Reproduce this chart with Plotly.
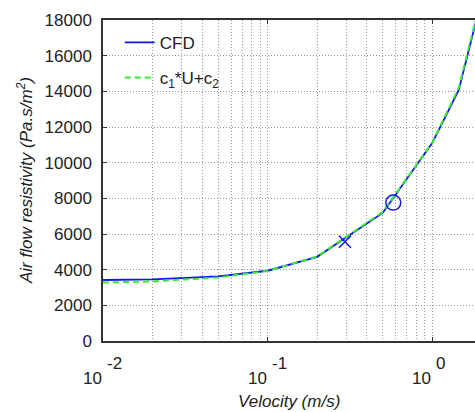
import numpy as np
import plotly.graph_objects as go

# ---- data ----
velocity = [0.01, 0.02, 0.05, 0.1, 0.2, 0.5, 1.0, 1.45, 2.0]
cfd = [3420, 3460, 3620, 3940, 4720, 7180, 11100, 14080, 19200]
fit = [3280, 3340, 3560, 3930, 4740, 7230, 11120, 14200, 19350]

marker_x_v = [0.295]
marker_x_val = [5570]
marker_o_v = [0.58]
marker_o_val = [7760]

y_ticks = [0, 2000, 4000, 6000, 8000, 10000, 12000, 14000, 16000, 18000]
x_major = [0.01, 0.1, 1.0]
x_tick_base = ["10", "10", "10"]
x_tick_exp = ["-2", "-1", "0"]
x_minor = [m * d for d in [0.01, 0.1, 1.0] for m in range(2, 10)]

FONT = "Liberation Sans, Arial, sans-serif"
BLUE = "#1414e6"
GREEN = "#33ee33"
TXT = "#222"

fig = go.Figure()
fig.add_trace(go.Scatter(x=velocity, y=cfd, mode="lines", name="CFD",
                         line=dict(color=BLUE, width=1.8),
                         legendgroup="a"))
fig.add_trace(go.Scatter(x=velocity, y=fit, mode="lines",
                         name="c<sub>1</sub>*U+c<sub>2</sub>",
                         line=dict(color=GREEN, width=2, dash="6px,4px"),
                         legendgroup="b"))
fig.add_trace(go.Scatter(x=marker_x_v, y=marker_x_val, mode="markers",
                         marker=dict(symbol="x-thin", size=12,
                                     line=dict(color=BLUE, width=1.5)),
                         showlegend=False))
fig.add_trace(go.Scatter(x=marker_o_v, y=marker_o_val, mode="markers",
                         marker=dict(symbol="circle-open", size=15,
                                     color=BLUE,
                                     line=dict(color=BLUE, width=1.5)),
                         showlegend=False))

W, H = 475, 412
L, R, T, B = 103, 0, 20, 71


def px_to_paper(xp, yp):
    return (xp - L) / (W - L - R), (H - B - yp) / (H - T - B)


annotations = []
for v, b, e in zip(x_major, x_tick_base, x_tick_exp):
    annotations.append(dict(x=np.log10(v), y=0, xref="x", yref="paper",
                            text=b, showarrow=False, xanchor="right",
                            yanchor="middle", xshift=1, yshift=-37,
                            font=dict(family=FONT, size=17, color=TXT)))
    annotations.append(dict(x=np.log10(v), y=0, xref="x", yref="paper",
                            text=e, showarrow=False, xanchor="left",
                            yanchor="middle", xshift=2, yshift=-22,
                            font=dict(family=FONT, size=17, color=TXT)))

xt, yt = px_to_paper(289, 401)
annotations.append(dict(x=xt, y=yt, xref="paper", yref="paper",
                        xanchor="center", yanchor="middle",
                        text="<i>Velocity (m/s)</i>", showarrow=False,
                        font=dict(family=FONT, size=17, color=TXT)))
xt, yt = px_to_paper(25, 181)
annotations.append(dict(x=xt, y=yt, xref="paper", yref="paper", textangle=-90,
                        xanchor="center", yanchor="middle",
                        text="<i>Air flow resistivity (Pa.s/m<sup>2</sup>)</i>",
                        showarrow=False,
                        font=dict(family=FONT, size=17, color=TXT)))

grid = dict(showgrid=True, gridcolor="#9a9a9a", gridwidth=1, griddash="1px,2px")

fig.update_layout(
    width=W, height=H,
    margin=dict(l=L, r=R, t=T, b=B, autoexpand=False),
    plot_bgcolor="white", paper_bgcolor="white",
    font=dict(family=FONT, size=17, color=TXT),
    showlegend=True,
    legend=dict(x=0.045, y=0.985, xanchor="left", yanchor="top",
                bgcolor="rgba(0,0,0,0)", tracegroupgap=10,
                font=dict(family=FONT, size=17, color=TXT),
                itemwidth=30),
    annotations=annotations,
    xaxis=dict(type="log", range=[-2, 0.26],
               tickmode="array", tickvals=x_major, showticklabels=False,
               ticks="inside", ticklen=4, tickcolor="#333",
               showline=True, linecolor="#333", linewidth=1.5,
               mirror="ticks", zeroline=False,
               minor=dict(tickmode="array", tickvals=x_minor, ticks="",
                          **grid),
               **grid),
    yaxis=dict(range=[0, 18000], tickmode="array", tickvals=y_ticks,
               ticktext=[str(t) for t in y_ticks],
               ticks="inside", ticklen=4, tickcolor="#333",
               showline=True, linecolor="#333", linewidth=1.5,
               mirror=False, zeroline=False, ticklabelstandoff=6,
               tickfont=dict(family=FONT, size=17, color=TXT),
               **grid),
)

fig.write_html(
    "out.html",
    config={"displayModeBar": False},
    post_script="document.body.style.margin='0';"
                "document.body.style.overflow='hidden';",
)
